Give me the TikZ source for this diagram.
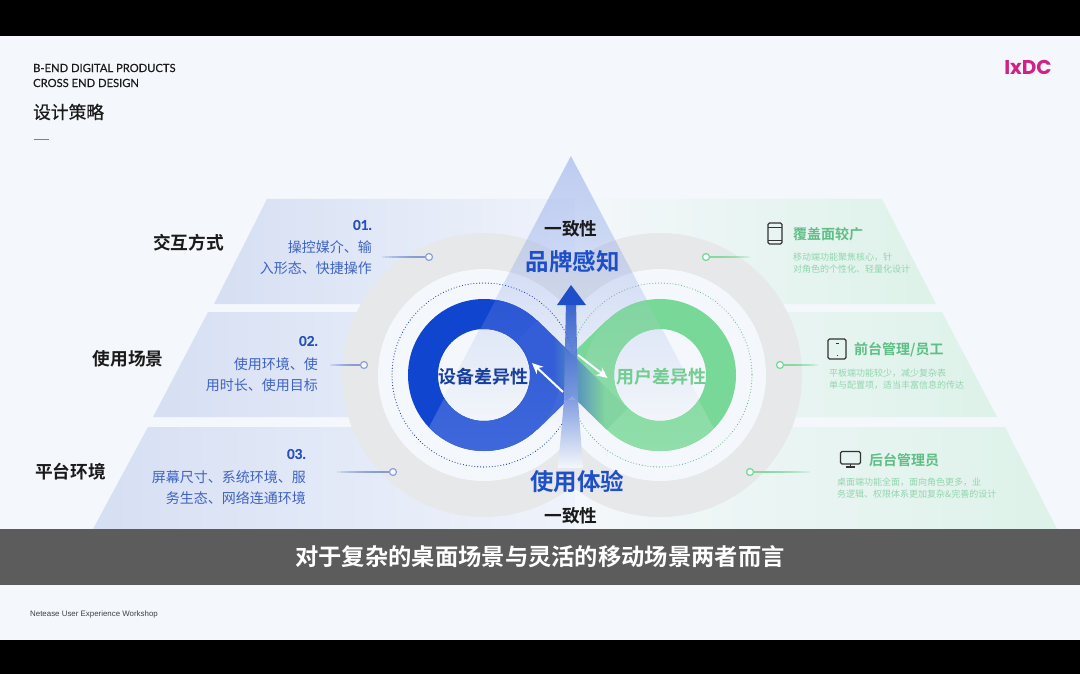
\documentclass[tikz,border=0pt]{standalone}
\usepackage{fontspec}
\setmainfont{Noto Sans CJK SC}[BoldFont={Noto Sans CJK SC Bold}]
\newfontfamily\cjkmed{Noto Sans CJK SC}[FakeBold=0.5]
\newfontfamily\latinf{Lato}[FakeBold=0.35]
\newfontfamily\footf{Liberation Sans}
\newfontfamily\logof{Poppins}
\usetikzlibrary{fadings,arrows.meta,shapes.geometric}
\definecolor{bgc}{HTML}{F4F7FB}
\definecolor{blueA}{HTML}{1045D0}
\definecolor{blueB}{HTML}{3F68DB}
\definecolor{blueC}{HTML}{2C57D4}
\definecolor{greenA}{HTML}{78D898}
\definecolor{greenB}{HTML}{90DFAB}
\definecolor{greenC}{HTML}{82D4A0}
\definecolor{txtblue}{HTML}{3F63C2}
\definecolor{headblue}{HTML}{2550BE}
\definecolor{titblue}{HTML}{1E4FC8}
\definecolor{grnhead}{HTML}{5FBE85}
\definecolor{grntxt}{HTML}{92D5AE}
\definecolor{tierL}{HTML}{D6DFF3}
\definecolor{tierLb}{HTML}{EFF3FB}
\definecolor{tierR}{HTML}{DDF2E9}
\definecolor{dark}{HTML}{1A1A1A}
\definecolor{ringg}{HTML}{E6E8EA}
\tikzfading[name=fadetri,top color=transparent!58,middle color=transparent!82,bottom color=transparent!100]
\tikzset{
  hd/.style={font=\bfseries\fontsize{17.7}{20}\selectfont,text=dark,inner sep=0,anchor=center},
  ltxt/.style={font=\fontsize{14}{16}\selectfont,text=txtblue,inner sep=0,anchor=east},
  lnum/.style={font=\bfseries\fontsize{13.5}{16}\selectfont,text=headblue,inner sep=0,anchor=east},
  rhd/.style={font=\bfseries\fontsize{14}{16}\selectfont,text=grnhead,inner sep=0,anchor=west},
  rtxt/.style={font=\fontsize{9}{11}\selectfont,text=grntxt,inner sep=0,anchor=west},
  dotL/.style={circle,draw=#1,line width=1.2pt,fill=bgc,minimum size=7pt,inner sep=0},
  icn/.style={draw=black!80,line width=1.1pt,rounded corners=1.5pt},
  dotring/.style={line width=1.1pt,line cap=round,dash pattern=on 0pt off 2.9pt},
  wharrow/.style={draw=white,line width=2pt,-{Stealth[length=11pt,width=10pt]}}
}
\begin{document}
\begin{tikzpicture}[x=1pt,y=-1pt]
\useasboundingbox (0,0) rectangle (1080,674);
\fill[black] (0,0) rectangle (1080,674);
\fill[bgc] (0,36.5) rectangle (1080,640);
% tiers left
\shade[left color=tierL,right color=tierLb] (267,199)--(575,199)--(575,304)--(214,304)--cycle;
\shade[left color=tierL,right color=tierLb] (208,312)--(575,312)--(575,417)--(153,417)--cycle;
\shade[left color=tierL,right color=tierLb] (148,427)--(575,427)--(575,529)--(93,529)--cycle;
% tiers right
\shade[left color=bgc,right color=tierR] (575,199)--(882,199)--(936,304)--(575,304)--cycle;
\shade[left color=bgc,right color=tierR] (575,312)--(942,312)--(997,417)--(575,417)--cycle;
\shade[left color=bgc,right color=tierR] (575,427)--(1005,427)--(1057,529)--(575,529)--cycle;
% grey halo and inner disc
\fill[ringg] (484,375) circle (142) (660,375) circle (142);
\fill[bgc] (484,375) circle (106) (660,375) circle (106);
\fill[bgc] (500,330) rectangle (644,420);
% apex tint
\fill[path fading=fadetri,color=blueA!60!white] (571,156)--(428,427)--(714,427)--cycle;
% dotted circles
\draw[dotring,color=blueA!75!black] (484,375) circle (92);
\draw[dotring,color=greenA!85!black] (660,375) circle (92);
% rings
\coordinate (lc) at (484,375);
\coordinate (rc) at (660,375);
\coordinate (xc) at (572,375);
\coordinate (lbt) at (526.9,419);
\coordinate (ltt) at (526.9,331);
\coordinate (rtt) at (617.1,331);
\coordinate (rbt) at (617.1,419);
\draw[blueA,line width=30pt] (lc) circle (61);
\draw[greenA,line width=30pt] (rc) circle (61);
\draw[blueB,line width=30pt] (lbt)--(xc);
\draw[greenA,line width=30pt] (rtt)--(xc);
% lighter ring portion inside the apex triangle
\begin{scope}
\clip (571,156)--(349,580)--(793,580)--cycle;
\shade[even odd rule,top color=blueC,bottom color=blueB] (lc) circle (76) (lc) circle (46);
\shade[even odd rule,top color=greenC,bottom color=greenB] (rc) circle (76) (rc) circle (46);
\end{scope}
% crossing band
\begin{scope}
\clip (526.9-10.4,331+10.8)--(526.9+10.4,331-10.8)--(617.1+10.4,419-10.8)--(617.1-10.4,419+10.8)--cycle;
\shade[left color=blueC!60!blueB,right color=greenC] (553,320) rectangle (605,430);
\fill[blueC!60!blueB] (500,320) rectangle (553.5,430);
\fill[greenC] (604.5,320) rectangle (640,430);
\end{scope}
% arrow
\shade[top color=titblue,bottom color=titblue!55!white,opacity=.85] (566,300)--(576,300)--(578,400)--(564,400)--cycle;
\shade[top color=titblue!55!white,bottom color=bgc] (564,400)--(578,400)--(583,468)--(558,468)--cycle;
\fill[titblue] (571,285)--(586,305)--(557,305)--cycle;
% white arrows
\coordinate (a1s) at (563,392);
\coordinate (a1e) at (532,363);
\coordinate (a2s) at (578,355);
\coordinate (a2e) at (607.5,378);
\draw[wharrow] (a1s)--(a1e);
\draw[wharrow] (a2s)--(a2e);
% connectors
\foreach \n/\sx/\dx/\yy in {a/382/429/257,b/330/364/365,c/337/393/472}{
  \coordinate (s\n) at (\sx,\yy);
  \node[dotL=txtblue!60!white] (d\n) at (\dx,\yy) {};
  \foreach \p in {0,.08,.16,.24,.32,.4,.48,.56,.64,.72}{
    \path (s\n)--(d\n) coordinate[pos=\p] (z);
    \draw[line width=1.3pt,txtblue!70!white,opacity=.17] (z)--(d\n);
  }
}
\foreach \n/\sx/\dx/\yy in {e/750/706/257,f/818/780/365,g/810/750/472}{
  \coordinate (s\n) at (\sx,\yy);
  \node[dotL=greenA] (d\n) at (\dx,\yy) {};
  \foreach \p in {0,.08,.16,.24,.32,.4,.48,.56,.64,.72}{
    \path (s\n)--(d\n) coordinate[pos=\p] (z);
    \draw[line width=1.3pt,greenA,opacity=.17] (z)--(d\n);
  }
}
% left text
\node[hd] (h1) at (188.5,243) {交互方式};
\node[hd] (h2) at (128,359) {使用场景};
\node[hd] (h3) at (70.5,472) {平台环境};
\node[lnum] (n1) at (372,225) {\latinf\bfseries 01.};
\node[ltxt] (t1a) at (372,247) {操控媒介、输};
\node[ltxt] (t1b) at (372,268) {入形态、快捷操作};
\node[lnum] (n2) at (318,341) {\latinf\bfseries 02.};
\node[ltxt] (t2a) at (318,364) {使用环境、使};
\node[ltxt] (t2b) at (318,385) {用时长、使用目标};
\node[lnum] (n3) at (306,454) {\latinf\bfseries 03.};
\node[ltxt] (t3a) at (306,477) {屏幕尺寸、系统环境、服};
\node[ltxt] (t3b) at (306,498) {务生态、网络连通环境};
% right text
\node[rhd] (r1) at (793,234) {覆盖面较广};
\node[rtxt] (r1a) at (793,257) {移动端功能聚焦核心，针};
\node[rtxt] (r1b) at (793,269) {对角色的个性化、轻量化设计};
\node[rhd] (r2) at (854,350) {前台管理/员工};
\node[rtxt] (r2a) at (829,373) {平板端功能较少，减少复杂表};
\node[rtxt] (r2b) at (829,385) {单与配置项，适当丰富信息的传达};
\node[rhd] (r3) at (869,460) {后台管理员};
\node[rtxt] (r3a) at (837,482) {桌面端功能全面，面向角色更多，业};
\node[rtxt] (r3b) at (837,494) {务逻辑、权限体系更加复杂\&完善的设计};
% icons
\draw[icn] (768,223) rectangle (782,244);
\draw[black!80,line width=.6pt] (768,227)--(782,227) (768,240.5)--(782,240.5);
\draw[icn,line width=1.3pt] (828,339) rectangle (846,359);
\fill[black!80] (835.5,342.5) rectangle (838.5,343.5);
\fill[black!80] (836.5,354.5) rectangle (837.8,355.8);
\draw[icn,line width=1.3pt] (840.5,451.5) rectangle (860.5,464);
\draw[black!80,line width=1.3pt] (846,467)--(855,467);
\draw[black!80,line width=1pt] (850.5,464)--(850.5,467);
% center text
\node[hd] (c1) at (571,229) {一致性};
\node[font=\bfseries\fontsize{23.5}{26}\selectfont,text=titblue,inner sep=0] (c2) at (572.5,262) {品牌感知};
\node[font=\bfseries\fontsize{23.5}{26}\selectfont,text=titblue,inner sep=0] (c3) at (577,481) {使用体验};
\node[hd] (c4) at (571,516) {一致性};
\node[font=\bfseries\fontsize{18}{20}\selectfont,text=titblue!80!black,inner sep=0] (c5) at (483,377) {设备差异性};
\node[font=\bfseries\fontsize{18}{20}\selectfont,text=greenA!95!black,inner sep=0] (c6) at (661,377) {用户差异性};
% header
\node[font=\latinf\fontsize{11.2}{13}\selectfont,text=dark,anchor=west,inner sep=0] (e1) at (33,68) {B-END DIGITAL PRODUCTS};
\node[font=\latinf\fontsize{11.2}{13}\selectfont,text=dark,anchor=west,inner sep=0] (e2) at (33,83) {CROSS END DESIGN};
\node[font=\cjkmed\fontsize{17.7}{20}\selectfont,text=dark,anchor=west,inner sep=0] (e3) at (33,112) {设计策略};
\draw[black!50,line width=.8pt] (34,139)--(49,139);
\node[font=\logof\bfseries\fontsize{20}{22}\selectfont,text=magenta!85!black,inner sep=0] (lg) at (1028,67) {IxDC};
% subtitle
\fill[black!64] (0,529) rectangle (1080,585);
\node[font=\bfseries\fontsize{23.3}{26}\selectfont,text=white,inner sep=0] (sub) at (540,557) {对于复杂的桌面场景与灵活的移动场景两者而言};
\node[font=\footf\fontsize{7.9}{10}\selectfont,text=black!75,anchor=west,inner sep=0] (ft) at (30,614.5) {Netease User Experience Workshop};
\end{tikzpicture}
\end{document}
